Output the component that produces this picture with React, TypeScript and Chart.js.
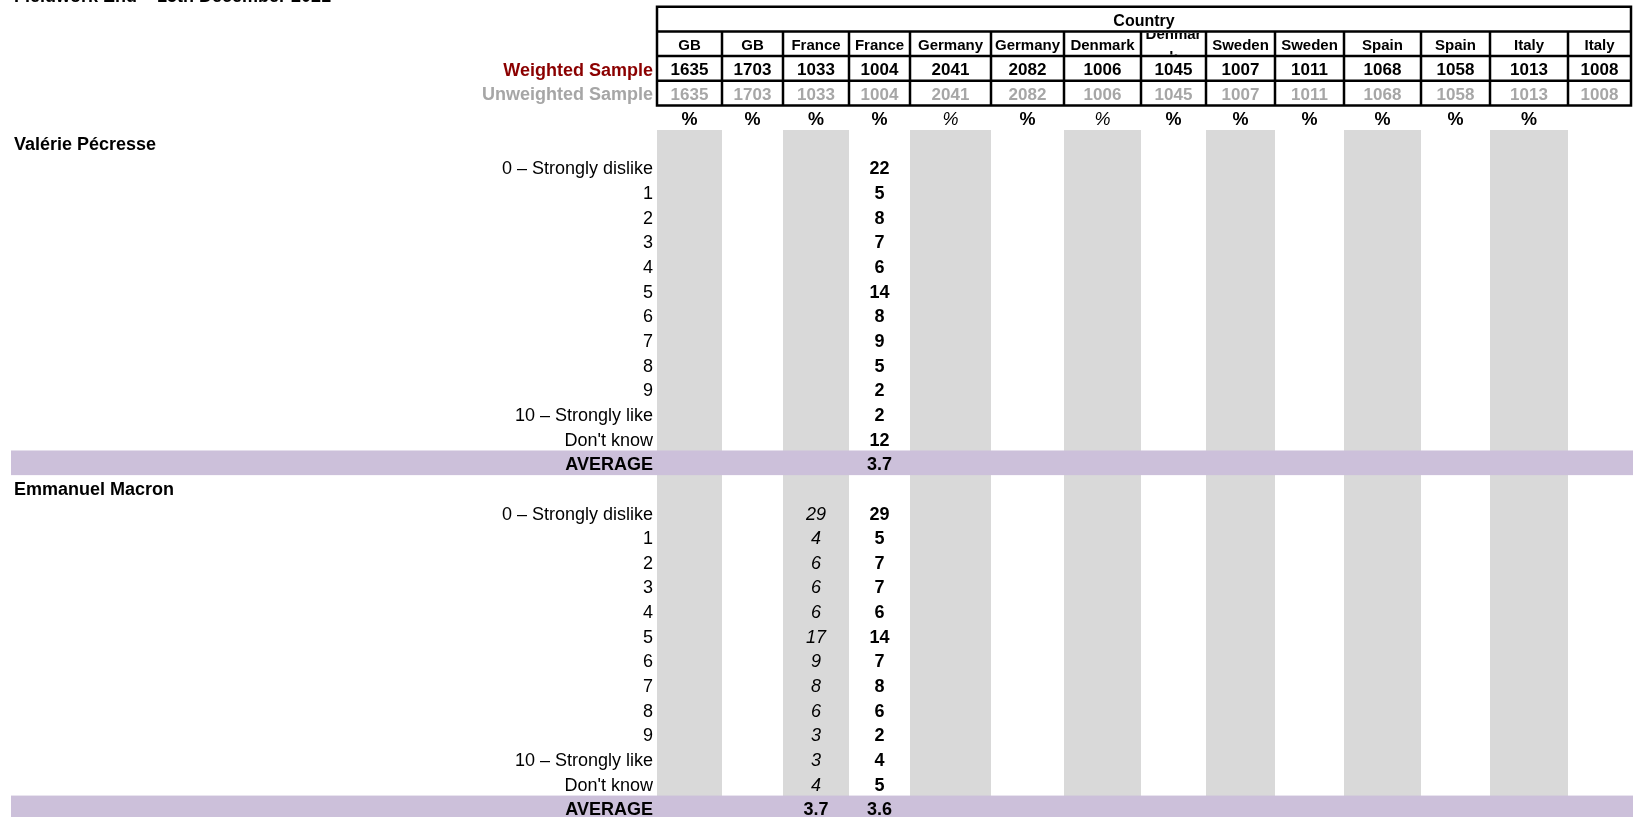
import React, { useEffect, useRef } from 'react';
import { Chart, registerables } from 'chart.js';

Chart.register(...registerables);

// ---------------- data ----------------
const fieldworkNote = 'Fieldwork End – 15th December 2021';
const bannerTitle = 'Country';
const countries = ['GB', 'GB', 'France', 'France', 'Germany', 'Germany', 'Denmark', 'Denmark', 'Sweden', 'Sweden', 'Spain', 'Spain', 'Italy', 'Italy'];
const weightedSample = [1635, 1703, 1033, 1004, 2041, 2082, 1006, 1045, 1007, 1011, 1068, 1058, 1013, 1008];
const unweightedSample = [1635, 1703, 1033, 1004, 2041, 2082, 1006, 1045, 1007, 1011, 1068, 1058, 1013, 1008];
const percentMarks = ['%', '%', '%', '%', '%', '%', '%', '%', '%', '%', '%', '%', '%', ''];
const weightedLabel = 'Weighted Sample';
const unweightedLabel = 'Unweighted Sample';
const scaleLabels = ['0 – Strongly dislike', '1', '2', '3', '4', '5', '6', '7', '8', '9', '10 – Strongly like', "Don't know"];
const averageLabel = 'AVERAGE';
const candidates = ['Valérie Pécresse', 'Emmanuel Macron'];
const pecresseFranceA: (number | null)[] = [null, null, null, null, null, null, null, null, null, null, null, null];
const pecresseFranceB = [22, 5, 8, 7, 6, 14, 8, 9, 5, 2, 2, 12];
const pecresseAverageA: number | null = null;
const pecresseAverageB = 3.7;
const macronFranceA = [29, 4, 6, 6, 6, 17, 9, 8, 6, 3, 3, 4];
const macronFranceB = [29, 5, 7, 7, 6, 14, 7, 8, 6, 2, 4, 5];
const macronAverageA = 3.7;
const macronAverageB = 3.6;

// ---------------- layout (positions / styles) ----------------
const W = 1633;
const H = 817;
const COL_EDGES = [657, 722, 783, 849, 910, 991, 1064, 1141, 1206, 1275, 1344, 1421, 1490, 1568, 1631];
const LABEL_RIGHT = 653;
const LEFT_TEXT = 14;
const BAND_LEFT = 11;
const ROW0 = 167;
const ROW_H = 24.65;
const FONT = '"Liberation Sans", Arial, Helvetica, sans-serif';
const GRAY_COL = '#d9d9d9';
const BAND = '#ccc0da';
const DARK_RED = '#8b0000';
const LIGHT_GRAY_TEXT = '#a6a6a6';
const italicPctCols = [4, 6];

const R_NOTE = -7;
const R_COUNTRY = -6;
const R_NAMES = -5;
const R_W = -4;
const R_U = -3;
const R_PCT = -2;
const SECTION_START = [-1, 13];

const colCenter = (k: number) => (COL_EDGES[k] + COL_EDGES[k + 1]) / 2;

const tablePlugin = {
  id: 'tablePlugin',
  beforeDraw(chart: any) {
    const { ctx } = chart;
    ctx.save();
    ctx.fillStyle = '#ffffff';
    ctx.fillRect(0, 0, chart.width, chart.height);
    ctx.restore();
  },
  afterDatasetsDraw(chart: any) {
    const { ctx } = chart;
    const xs = chart.scales.x;
    const ys = chart.scales.y;
    const px = (v: number) => xs.getPixelForValue(v);
    const py = (v: number) => ys.getPixelForValue(v);

    const text = (str: string, x: number, row: number, size: number, weight: string, color: string, align: CanvasTextAlign, style = 'normal') => {
      ctx.font = `${style} ${weight} ${size}px ${FONT}`;
      ctx.fillStyle = color;
      ctx.textAlign = align;
      ctx.textBaseline = 'alphabetic';
      ctx.fillText(str, px(x), py(row) + 1 + 0.358 * size);
    };

    ctx.save();
    // gray shaded columns
    ctx.fillStyle = GRAY_COL;
    for (let k = 0; k < countries.length; k += 2) {
      const x0 = px(COL_EDGES[k]);
      const x1 = px(COL_EDGES[k + 1]);
      const y0 = py(-1.5);
      ctx.fillRect(x0, y0, x1 - x0, py(ys.max) - y0 + 2);
    }
    // average bands
    ctx.fillStyle = BAND;
    SECTION_START.forEach((s) => {
      const r = s + 13;
      const y0 = py(r - 0.5);
      const y1 = py(r + 0.5);
      ctx.fillRect(px(BAND_LEFT), y0, px(xs.max) - px(BAND_LEFT), y1 - y0);
    });

    // header table borders
    ctx.strokeStyle = '#000000';
    ctx.lineWidth = 2.5;
    const L = px(COL_EDGES[0]);
    const R = px(COL_EDGES[COL_EDGES.length - 1]);
    const top = py(R_COUNTRY - 0.5);
    const bottom = py(R_U + 0.5);
    ctx.beginPath();
    ctx.rect(L, top, R - L, bottom - top);
    [R_NAMES - 0.5, R_W - 0.5, R_U - 0.5].forEach((r) => {
      ctx.moveTo(L, py(r));
      ctx.lineTo(R, py(r));
    });
    for (let k = 1; k < COL_EDGES.length - 1; k++) {
      ctx.moveTo(px(COL_EDGES[k]), py(R_NAMES - 0.5));
      ctx.lineTo(px(COL_EDGES[k]), bottom);
    }
    ctx.stroke();

    // note at top
    text(fieldworkNote, LEFT_TEXT, R_NOTE, 18, 'bold', '#000', 'left');
    // banner title
    text(bannerTitle, (COL_EDGES[0] + COL_EDGES[COL_EDGES.length - 1]) / 2, R_COUNTRY, 16, 'bold', '#000', 'center');

    // column names (the 8th one wraps and is clipped in its cell)
    countries.forEach((c, k) => {
      if (k === 7) {
        ctx.save();
        ctx.beginPath();
        ctx.rect(px(COL_EDGES[k]) + 1.5, py(R_NAMES - 0.5) + 1.5, px(COL_EDGES[k + 1]) - px(COL_EDGES[k]) - 3, py(R_NAMES + 0.5) - py(R_NAMES - 0.5) - 3);
        ctx.clip();
        ctx.font = `bold 15px ${FONT}`;
        ctx.fillStyle = '#000';
        ctx.textAlign = 'center';
        ctx.fillText(c.slice(0, 6), px(colCenter(k)), py(R_NAMES) - 5);
        ctx.fillText(c.slice(6), px(colCenter(k)), py(R_NAMES) + 18);
        ctx.restore();
      } else {
        text(c, colCenter(k), R_NAMES, 15, 'bold', '#000', 'center');
      }
    });
    weightedSample.forEach((v, k) => text(String(v), colCenter(k), R_W, 17, 'bold', '#000', 'center'));
    unweightedSample.forEach((v, k) => text(String(v), colCenter(k), R_U, 17, 'bold', LIGHT_GRAY_TEXT, 'center'));
    percentMarks.forEach((m, k) => {
      if (!m) return;
      const it = italicPctCols.includes(k);
      text(m, colCenter(k), R_PCT, 18, it ? 'normal' : 'bold', '#000', 'center', it ? 'italic' : 'normal');
    });
    text(weightedLabel, LABEL_RIGHT, R_W, 18, 'bold', DARK_RED, 'right');
    text(unweightedLabel, LABEL_RIGHT, R_U, 18, 'bold', LIGHT_GRAY_TEXT, 'right');

    // sections
    const sectionData = [
      { a: pecresseFranceA, b: pecresseFranceB, avgA: pecresseAverageA, avgB: pecresseAverageB },
      { a: macronFranceA, b: macronFranceB, avgA: macronAverageA, avgB: macronAverageB },
    ];
    SECTION_START.forEach((s, ci) => {
      text(candidates[ci], LEFT_TEXT, s, 18, 'bold', '#000', 'left');
      scaleLabels.forEach((lab, i) => text(lab, LABEL_RIGHT, s + 1 + i, 18, 'normal', '#000', 'right'));
      text(averageLabel, LABEL_RIGHT, s + 13, 18, 'bold', '#000', 'right');
      const d = sectionData[ci];
      d.a.forEach((v, i) => {
        if (v !== null && v !== undefined) text(String(v), colCenter(2), s + 1 + i, 18, 'normal', '#000', 'center', 'italic');
      });
      d.b.forEach((v, i) => text(String(v), colCenter(3), s + 1 + i, 18, 'bold', '#000', 'center'));
      if (d.avgA !== null) text(d.avgA.toFixed(1), colCenter(2), s + 13, 18, 'bold', '#000', 'center');
      text(d.avgB.toFixed(1), colCenter(3), s + 13, 18, 'bold', '#000', 'center');
    });
    ctx.restore();
  },
};

export default function App() {
  const ref = useRef<HTMLCanvasElement | null>(null);
  useEffect(() => {
    if (!ref.current) return;
    const chart = new Chart(ref.current, {
      type: 'scatter',
      data: { datasets: [{ data: [], pointRadius: 0 }] },
      options: {
        animation: false,
        responsive: false,
        layout: { padding: 0 },
        events: [],
        plugins: { legend: { display: false }, tooltip: { enabled: false } },
        scales: {
          x: { type: 'linear', min: 0, max: W, display: false },
          y: { type: 'linear', min: -ROW0 / ROW_H, max: (H - ROW0) / ROW_H, reverse: true, display: false },
        },
      },
      plugins: [tablePlugin],
    });
    return () => chart.destroy();
  }, []);
  return (
    <div style={{ position: 'absolute', left: 0, top: 0, width: W, height: H, background: '#fff' }}>
      <canvas ref={ref} width={W} height={H} style={{ width: W, height: H, display: 'block' }} />
    </div>
  );
}
